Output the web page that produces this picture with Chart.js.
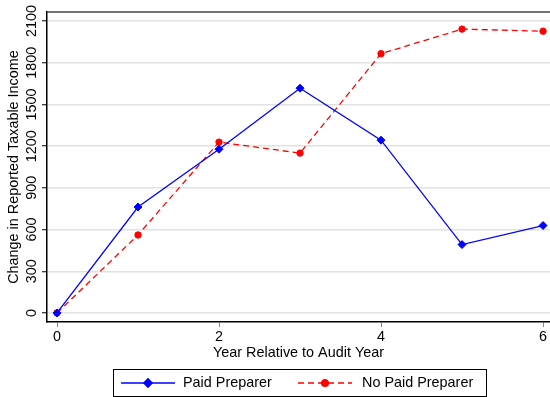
<!DOCTYPE html>
<html>
<head>
<meta charset="utf-8">
<script src="https://cdn.jsdelivr.net/npm/chart.js@4/dist/chart.umd.min.js"></script>
<style>
  html, body { margin: 0; padding: 0; background: #fff; overflow: hidden; }
  canvas { display: block; }
</style>
</head>
<body>
<canvas id="c" width="550" height="397"></canvas>
<script>
// values
var years = [0, 1, 2, 3, 4, 5, 6];
var paidPreparer = [0, 762, 1178, 1617, 1243, 492, 629];
var noPaidPreparer = [0, 561, 1229, 1150, 1865, 2042, 2027];
var xTicks = [0, 2, 4, 6];
var yTicks = [0, 300, 600, 900, 1200, 1500, 1800, 2100];

var FONT = '"Liberation Sans", Arial, Helvetica, sans-serif';
var FSIZE = 14.4;

function toPoints(vals) {
	return years.map(function(x, i) { return {x: x, y: vals[i]}; });
}

// tick labels drawn by hand, the y ones are vertical in the original
var tickLabels = {
	id: 'tickLabels',
	afterDraw: function(chart) {
		var ctx = chart.ctx, x = chart.scales.x, y = chart.scales.y;
		ctx.save();
		ctx.fillStyle = '#000';
		ctx.font = FSIZE + 'px ' + FONT;
		ctx.textAlign = 'center';
		ctx.textBaseline = 'middle';
		yTicks.forEach(function(v) {
			ctx.save();
			ctx.translate(32, y.getPixelForValue(v));
			ctx.rotate(-Math.PI / 2);
			ctx.fillText(String(v), 0, 0);
			ctx.restore();
		});
		xTicks.forEach(function(v) {
			ctx.fillText(String(v), x.getPixelForValue(v), 337);
		});
		ctx.restore();
	}
};

// top frame line + boxed legend under the axis title
var frameAndLegend = {
	id: 'frameAndLegend',
	afterDraw: function(chart) {
		var ctx = chart.ctx, a = chart.chartArea;
		ctx.save();
		ctx.strokeStyle = '#444';
		ctx.lineWidth = 1.5;
		ctx.beginPath();
		ctx.moveTo(a.left, a.top);
		ctx.lineTo(a.right, a.top);
		ctx.stroke();

		ctx.strokeStyle = '#000';
		ctx.lineWidth = 1;
		ctx.strokeRect(113.5, 369.5, 373, 27);

		var items = [
			{ds: chart.data.datasets[0], x0: 121, x1: 175, tx: 183},
			{ds: chart.data.datasets[1], x0: 298, x1: 352, tx: 362}
		];
		var ly = 383;
		items.forEach(function(it) {
			var ds = it.ds;
			ctx.strokeStyle = ds.borderColor;
			ctx.lineWidth = ds.borderWidth;
			ctx.setLineDash(ds.borderDash || []);
			ctx.beginPath();
			ctx.moveTo(it.x0, ly);
			ctx.lineTo(it.x1, ly);
			ctx.stroke();
			ctx.setLineDash([]);
			Chart.helpers.drawPoint(ctx, {
				pointStyle: ds.pointStyle,
				radius: ds.pointRadius,
				rotation: 0,
				borderWidth: 1
			}, (it.x0 + it.x1) / 2, ly);
			ctx.fillStyle = ds.pointBackgroundColor;
			ctx.strokeStyle = ds.pointBorderColor;
			ctx.fill();
			ctx.stroke();
			ctx.fillStyle = '#000';
			ctx.font = FSIZE + 'px ' + FONT;
			ctx.textAlign = 'left';
			ctx.textBaseline = 'middle';
			ctx.fillText(ds.label, it.tx, ly);
		});
		ctx.restore();
	}
};

var chart = new Chart(document.getElementById('c'), {
	type: 'line',
	data: {
		datasets: [
			{
				label: 'Paid Preparer',
				data: toPoints(paidPreparer),
				borderColor: '#0000ff',
				borderWidth: 1.3,
				pointStyle: 'rectRot',
				pointRadius: 4,
				pointBackgroundColor: '#0000ff',
				pointBorderColor: '#0000ff',
				pointBorderWidth: 1,
				tension: 0
			},
			{
				label: 'No Paid Preparer',
				data: toPoints(noPaidPreparer),
				borderColor: '#ff0000',
				borderWidth: 1.3,
				borderDash: [6, 4],
				pointStyle: 'circle',
				pointRadius: 3.2,
				pointBackgroundColor: '#ff0000',
				pointBorderColor: '#ff0000',
				pointBorderWidth: 1,
				tension: 0
			}
		]
	},
	options: {
		responsive: false,
		animation: false,
		clip: false,
		layout: {autoPadding: false, padding: {top: 12, right: 0, bottom: 35, left: 0}},
		plugins: {
			legend: {display: false},
			tooltip: {enabled: false}
		},
		scales: {
			x: {
				type: 'linear',
				min: -0.1235,
				max: 6.086,
				afterBuildTicks: function(s) { s.ticks = xTicks.map(function(v) { return {value: v}; }); },
				afterFit: function(s) { s.height = 40; },
				border: {color: '#000', width: 1.5},
				grid: {drawOnChartArea: false, tickLength: 5, color: '#888'},
				ticks: {display: false},
				title: {
					display: true,
					text: 'Year Relative to Audit Year',
					color: '#000',
					padding: {top: 0, bottom: 0},
					font: {family: FONT, size: FSIZE}
				}
			},
			y: {
				min: -65,
				max: 2165,
				afterBuildTicks: function(s) { s.ticks = yTicks.map(function(v) { return {value: v}; }); },
				afterFit: function(s) { s.width = 47; },
				border: {color: '#000', width: 1.5},
				grid: {color: '#e2e2e2', lineWidth: 1.5, tickLength: 5, tickColor: '#000', tickWidth: 1},
				ticks: {display: false},
				title: {
					display: true,
					text: 'Change in Reported Taxable Income',
					color: '#000',
					padding: {top: 5, bottom: 0},
					font: {family: FONT, size: FSIZE}
				}
			}
		}
	},
	plugins: [tickLabels, frameAndLegend]
});
</script>
</body>
</html>
